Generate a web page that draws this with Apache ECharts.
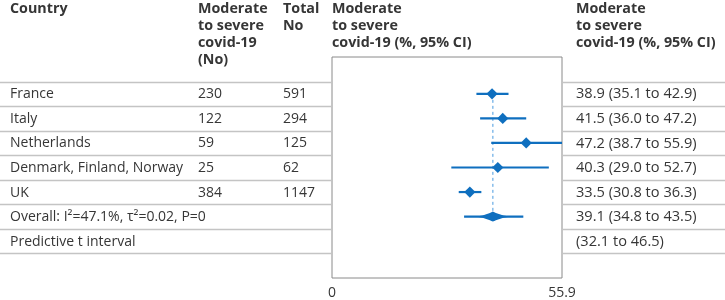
<!DOCTYPE html>
<html><head><meta charset="utf-8">
<script src="https://cdn.jsdelivr.net/npm/echarts@6/dist/echarts.min.js"></script>
<style>html,body{margin:0;padding:0;background:#fff}#c{width:725px;height:300px}</style>
</head><body><div id="c"></div>
<script>
// ---- data ----
const countries = ['France', 'Italy', 'Netherlands', 'Denmark, Finland, Norway', 'UK'];
const cases = [230, 122, 59, 25, 384];
const totals = [591, 294, 125, 62, 1147];
const estimates = [38.9, 41.5, 47.2, 40.3, 33.5];
const ciLow = [35.1, 36.0, 38.7, 29.0, 30.8];
const ciHigh = [42.9, 47.2, 55.9, 52.7, 36.3];
const overallLabel = 'Overall: I\u00B2=47.1%, \u03C4\u00B2=0.02, P=0';
const overall = [39.1, 34.8, 43.5];       // estimate, low, high
const predictive = [32.1, 46.5];          // low, high
const predictiveLabel = 'Predictive t interval';
const axisTicks = [0, 55.9];
const headers = [
  'Country',
  'Moderate\nto severe\ncovid-19\n(No)',
  'Total\nNo',
  'Moderate\nto severe\ncovid-19 (%, 95% CI)',
  'Moderate\nto severe\ncovid-19 (%, 95% CI)'
];

// ---- layout/style ----
const FONT = '"Open Sans", "Noto Sans", sans-serif';
const BLUE = '#0f6fbf';
const TXT = '#363636';
const colX = [10, 198, 283, 332, 576];

const f1 = v => v.toFixed(1);
const rowTexts = [];
for (let i = 0; i < countries.length; i++) {
  rowTexts.push([countries[i], String(cases[i]), String(totals[i]),
    f1(estimates[i]) + ' (' + f1(ciLow[i]) + ' to ' + f1(ciHigh[i]) + ')']);
}
rowTexts.push([overallLabel, '', '', f1(overall[0]) + ' (' + f1(overall[1]) + ' to ' + f1(overall[2]) + ')']);
rowTexts.push([predictiveLabel, '', '', '(' + f1(predictive[0]) + ' to ' + f1(predictive[1]) + ')']);

const textRows = rowTexts.map((r, i) => [i + 1.5]);
const sepRows = [1, 2, 3, 4, 5, 6, 7, 8].map(v => [v]);
const studyData = estimates.map((e, i) => [i + 1.5, ciLow[i], ciHigh[i], e]);

const chart = echarts.init(document.getElementById('c'), null, {renderer: 'canvas'});
const xMin = axisTicks[0], xMax = axisTicks[1];

chart.setOption({
  animation: false,
  grid: {left: 332, right: 163, top: 57, bottom: 19, show: true, borderColor: '#8a8a8a', borderWidth: 1, backgroundColor: 'transparent'},
  xAxis: {
    type: 'value', min: xMin, max: xMax, interval: xMax - xMin,
    axisLine: {show: false}, axisTick: {show: false}, splitLine: {show: false},
    axisLabel: {color: TXT, fontSize: 14, fontFamily: FONT, margin: 8,
      formatter: v => (Math.abs(v) < 1e-9 ? '0' : f1(v))}
  },
  yAxis: {type: 'value', min: 0, max: 9, inverse: true, show: false, splitLine: {show: false}},
  graphic: headers.map((h, i) => ({
    type: 'text', left: colX[i], top: 0,
    style: {text: h, font: 'bold 14.3px ' + FONT, fill: TXT, lineHeight: 17}
  })),
  series: [
    { // row separators
      type: 'custom', clip: false, silent: true, data: sepRows,
      renderItem: (params, api) => {
        const y = Math.round(api.coord([0, api.value(0)])[1]) + 0.5;
        const xl = api.coord([xMin, 0])[0];
        const xr = api.coord([xMax, 0])[0];
        const st = {stroke: '#c4c4c4', lineWidth: 1.3};
        return {type: 'group', children: [
          {type: 'line', shape: {x1: 0, y1: y, x2: xl, y2: y}, style: st},
          {type: 'line', shape: {x1: xr, y1: y, x2: 725, y2: y}, style: st}
        ]};
      }
    },
    { // table texts
      type: 'custom', clip: false, silent: true, data: textRows,
      renderItem: (params, api) => {
        const y = api.coord([0, api.value(0)])[1];
        const cells = rowTexts[params.dataIndex];
        const xs = [colX[0], colX[1], colX[2], colX[4]];
        return {type: 'group', children: cells.map((t, k) => ({
          type: 'text', style: {x: xs[k], y: y + 0.5, text: t, font: (k === 3 ? '14.6px ' : '14px ') + FONT, fill: TXT, verticalAlign: 'middle'}
        }))};
      }
    },
    { // reference dashed line at overall estimate
      type: 'custom', clip: false, silent: true, data: [[overall[0], 1.5, 6.5]],
      renderItem: (params, api) => {
        const p1 = api.coord([api.value(0), api.value(1)]);
        const p2 = api.coord([api.value(0), api.value(2)]);
        return {type: 'line', shape: {x1: p1[0], y1: p1[1], x2: p2[0], y2: p2[1]},
          style: {stroke: '#4a9be0', lineWidth: 1, lineDash: [3, 3]}};
      }
    },
    { // study CIs and estimates
      type: 'custom', clip: false, data: studyData,
      renderItem: (params, api) => {
        const y = api.coord([0, api.value(0)])[1];
        const xl = api.coord([api.value(1), 0])[0];
        const xh = api.coord([api.value(2), 0])[0];
        const xe = api.coord([api.value(3), 0])[0];
        const s = 5.6;
        return {type: 'group', children: [
          {type: 'line', shape: {x1: xl, y1: y, x2: xh, y2: y}, style: {stroke: BLUE, lineWidth: 2.2}},
          {type: 'polygon', shape: {points: [[xe - s, y], [xe, y - s], [xe + s, y], [xe, y + s]]}, style: {fill: BLUE}}
        ]};
      }
    },
    { // overall pooled estimate with predictive interval
      type: 'custom', clip: false, data: [[6.5, overall[0], overall[1], overall[2], predictive[0], predictive[1]]],
      renderItem: (params, api) => {
        const y = api.coord([0, api.value(0)])[1];
        const xe = api.coord([api.value(1), 0])[0];
        const xl = api.coord([api.value(2), 0])[0];
        const xh = api.coord([api.value(3), 0])[0];
        const pl = api.coord([api.value(4), 0])[0];
        const ph = api.coord([api.value(5), 0])[0];
        const h = 5;
        const pw = 1.6;
        const top = [], bot = [];
        const n = 12;
        for (let k = 0; k <= n; k++) {
          const t = k / n;
          top.push([xl + (xe - xl) * t, y - h * Math.pow(t, pw)]);
        }
        for (let k = n - 1; k >= 0; k--) {
          const t = k / n;
          top.push([xh - (xh - xe) * t, y - h * Math.pow(t, pw)]);
        }
        for (let k = 0; k <= n; k++) {
          const t = k / n;
          bot.push([xh - (xh - xe) * t, y + h * Math.pow(t, pw)]);
        }
        for (let k = n - 1; k >= 0; k--) {
          const t = k / n;
          bot.push([xl + (xe - xl) * t, y + h * Math.pow(t, pw)]);
        }
        return {type: 'group', children: [
          {type: 'line', shape: {x1: pl, y1: y, x2: ph, y2: y}, style: {stroke: BLUE, lineWidth: 2.2}},
          {type: 'polygon', shape: {points: top.concat(bot)}, style: {fill: BLUE}}
        ]};
      }
    }
  ]
});
</script></body></html>
